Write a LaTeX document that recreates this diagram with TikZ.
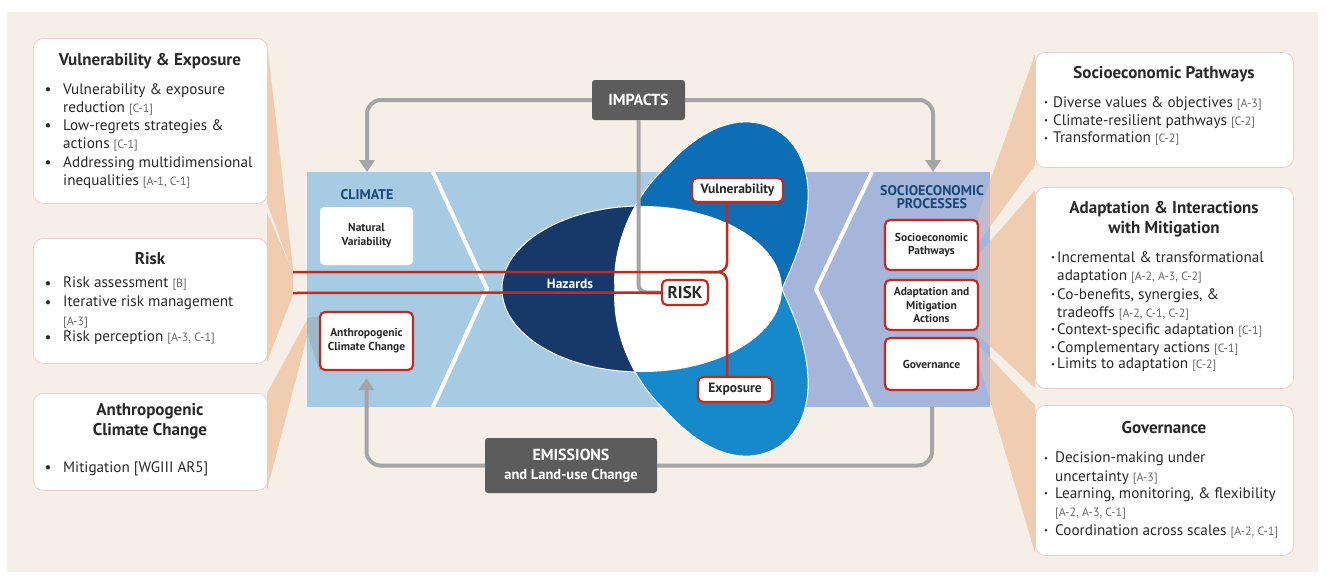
\documentclass[tikz,border=0pt]{standalone}
\usepackage{fontspec}
\setmainfont{PT Sans}
\usetikzlibrary{arrows.meta}
\definecolor{cream}{RGB}{246,239,231}
\definecolor{peach}{RGB}{240,205,177}
\definecolor{climblue}{RGB}{168,203,228}
\definecolor{soclav}{RGB}{166,181,218}
\definecolor{hazblue}{RGB}{22,57,106}
\definecolor{vulblue}{RGB}{12,110,181}
\definecolor{expblue}{RGB}{22,137,203}
\definecolor{redln}{RGB}{196,42,28}
\definecolor{boxgray}{RGB}{92,92,92}
\definecolor{linegray}{RGB}{165,165,165}
\definecolor{titleblue}{RGB}{24,72,120}
\definecolor{txt}{RGB}{40,40,40}
\definecolor{reftxt}{RGB}{105,105,105}
\definecolor{pinkedge}{RGB}{236,206,206}
\newcommand{\rf}[1]{{\fontsize{12}{13}\selectfont\color{reftxt}#1}}
\def\vulpetalpath{(615,289) .. controls (612,250) and (630,200) .. (665,168) .. controls (690,140) and (720,120) .. (750,122) .. controls (790,125) and (810,160) .. (808,200) .. controls (806,240) and (790,270) .. (782,289) -- cycle}
\def\exppetalpath{(615,289) .. controls (612,328) and (630,378) .. (665,410) .. controls (690,438) and (720,458) .. (750,456) .. controls (790,453) and (810,418) .. (808,378) .. controls (806,338) and (790,308) .. (782,289) -- cycle}
\begin{document}
\begin{tikzpicture}[x=1pt,y=-1pt,
  infobox/.style={draw=pinkedge, line width=0.8pt, fill=white, rounded corners=10pt, anchor=north west, inner sep=0pt},
  ttl/.style={font=\bfseries\fontsize{17}{20.5}\selectfont, text=txt, align=center, inner sep=0pt},
  itm/.style={font=\fontsize{15.2}{18.5}\selectfont, text=txt, align=left, anchor=north west, inner sep=0pt},
  dotb/.style={font=\fontsize{15.2}{18.5}\selectfont, text=txt, anchor=base, inner sep=0pt},
  dotc/.style={font=\bfseries\fontsize{15.2}{18.5}\selectfont, text=txt, anchor=base, inner sep=0pt},
  paneltitle/.style={font=\bfseries\fontsize{14}{13.5}\selectfont, text=titleblue, align=center, inner sep=0pt},
  nbox/.style={fill=white, rounded corners=4pt, inner sep=0pt, font=\bfseries\fontsize{11.5}{13.8}\selectfont, text=txt, align=center},
  rbox/.style={fill=white, draw=redln, line width=2.2pt, rounded corners=5pt, inner sep=0pt, font=\bfseries\fontsize{11.5}{13.8}\selectfont, text=txt, align=center},
  gbox/.style={fill=boxgray, rounded corners=3pt, inner sep=0pt, text=white, align=center},
  garrow/.style={draw=linegray, line width=4pt, rounded corners=14pt, -{Triangle[width=15pt,length=12pt]}},
  gline/.style={draw=linegray, line width=4pt, rounded corners=14pt},
  redline/.style={draw=redln, line width=2.5pt, rounded corners=9pt},
  wedge/.style={fill=peach}
]
\useasboundingbox (0,0) rectangle (1327,581);
\fill[white] (0,0) rectangle (1327,581);
\fill[cream] (7,12) rectangle (1318,572);

% wedges (left)
\fill[wedge] (267,42) -- (293,269) -- (293,274) -- (267,203) -- cycle;
\fill[wedge] (267,212) -- (293,273) -- (293,295) -- (267,362) -- cycle;
\fill[wedge] (267,393) -- (308,318) -- (308,333) -- (267,490) -- cycle;
% wedges (right)
\fill[wedge] (978,215) -- (1035,54) -- (1035,165) -- (978,243) -- cycle;
\fill[wedge] (978,255) -- (1035,190) -- (1035,388) -- (978,335) -- cycle;
\fill[wedge] (978,345) -- (1035,405) -- (1035,553) -- (978,360) -- cycle;

% band
\fill[climblue] (307,172) rectangle (740,407);
\fill[soclav] (740,172) rectangle (990,407);
\begin{scope}
  \clip (978,172) rectangle (990,407);
  \fill[peach, opacity=0.35] (978,215) -- (1035,54) -- (1035,165) -- (978,243) -- cycle;
  \fill[peach, opacity=0.35] (978,255) -- (1035,190) -- (1035,388) -- (978,335) -- cycle;
  \fill[peach, opacity=0.35] (978,345) -- (1035,405) -- (1035,553) -- (978,360) -- cycle;
\end{scope}
\fill[gray, opacity=0.25] (307,318) -- (320,316) -- (320,372) -- (307,333) -- cycle;
\draw[white, line width=4pt] (433,172) -- (487,289) -- (433,407);
\draw[white, line width=4pt] (872,172) -- (816,289) -- (872,407);

% petals
\fill[hazblue, draw=white, line width=1pt] (642,289) ellipse [x radius=140pt, y radius=83pt];
\fill[vulblue, draw=white, line width=1pt] \vulpetalpath;
\fill[expblue, draw=white, line width=1pt] \exppetalpath;
\begin{scope}
  \clip (642,289) ellipse [x radius=140pt, y radius=83pt];
  \fill[white] \vulpetalpath;
  \fill[white] \exppetalpath;
\end{scope}

% left info boxes
\node[infobox, minimum width=234pt, minimum height=165pt] (bve) at (33,38) {};
\node[ttl, anchor=base] (tve) at (150,65) {Vulnerability \& Exposure};
\node[dotb] (dve1) at (48,94) {\textbullet};
\node[dotb] (dve2) at (48,130) {\textbullet};
\node[dotb] (dve3) at (48,167) {\textbullet};
\node[itm] (ive1) at (63,83) {Vulnerability \& exposure\\reduction \rf{[C-1]}};
\node[itm] (ive2) at (63,119) {Low-regrets strategies \&\\actions \rf{[C-1]}};
\node[itm] (ive3) at (63,156) {Addressing multidimensional\\inequalities \rf{[A-1, C-1]}};

\node[infobox, minimum width=234pt, minimum height=125pt] (brk) at (33,238) {};
\node[ttl, anchor=base] (trk) at (150,264) {Risk};
\node[dotb] (drk1) at (48,288) {\textbullet};
\node[dotb] (drk2) at (48,307) {\textbullet};
\node[dotb] (drk3) at (48,342) {\textbullet};
\node[itm] (irk1) at (63,277) {Risk assessment \rf{[B]}};
\node[itm] (irk2) at (63,296) {Iterative risk management\\\rf{[A-3]}};
\node[itm] (irk3) at (63,331) {Risk perception \rf{[A-3, C-1]}};

\node[infobox, minimum width=234pt, minimum height=97pt] (bac) at (33,393) {};
\node[ttl, anchor=north] (tac) at (150,403) {Anthropogenic\\Climate Change};
\node[dotb] (dac1) at (48,472) {\textbullet};
\node[itm] (iac1) at (63,461) {Mitigation [WGIII AR5]};

% right info boxes
\node[infobox, minimum width=258pt, minimum height=115pt] (bsp) at (1035,52) {};
\node[ttl, anchor=base] (tsp) at (1164,78) {Socioeconomic Pathways};
\node[dotc] (dsp1) at (1046,107) {·};
\node[dotc] (dsp2) at (1046,125) {·};
\node[dotc] (dsp3) at (1046,143) {·};
\node[itm] (isp1) at (1053,96) {Diverse values \& objectives \rf{[A-3]}};
\node[itm] (isp2) at (1053,114) {Climate-resilient pathways \rf{[C-2]}};
\node[itm] (isp3) at (1053,132) {Transformation \rf{[C-2]}};

\node[infobox, minimum width=258pt, minimum height=201pt] (bad) at (1035,187) {};
\node[ttl, anchor=north] (tad) at (1164,201) {Adaptation \& Interactions\\with Mitigation};
\node[dotc] (dad1) at (1053,262) {·};
\node[dotc] (dad2) at (1053,299) {·};
\node[dotc] (dad3) at (1053,334) {·};
\node[dotc] (dad4) at (1053,352) {·};
\node[dotc] (dad5) at (1053,369) {·};
\node[itm] (iad1) at (1057,251) {Incremental \& transformational\\adaptation \rf{[A-2, A-3, C-2]}};
\node[itm] (iad2) at (1057,288) {Co-benefits, synergies, \&\\tradeoffs \rf{[A-2, C-1, C-2]}};
\node[itm] (iad3) at (1057,323) {Context-specific adaptation \rf{[C-1]}};
\node[itm] (iad4) at (1057,341) {Complementary actions \rf{[C-1]}};
\node[itm] (iad5) at (1057,358) {Limits to adaptation \rf{[C-2]}};

\node[infobox, minimum width=258pt, minimum height=150pt] (bgo) at (1035,405) {};
\node[ttl, anchor=base] (tgo) at (1164,433) {Governance};
\node[dotc] (dgo1) at (1046,463) {·};
\node[dotc] (dgo2) at (1046,498) {·};
\node[dotc] (dgo3) at (1046,535) {·};
\node[itm] (igo1) at (1055,452) {Decision-making under\\uncertainty \rf{[A-3]}};
\node[itm] (igo2) at (1055,487) {Learning, monitoring, \& flexibility\\\rf{[A-2, A-3, C-1]}};
\node[itm] (igo3) at (1055,524) {Coordination across scales \rf{[A-2, C-1]}};

% central panel labels and boxes
\node[paneltitle, anchor=base] (clt) at (367,199) {CLIMATE};
\node[nbox, minimum width=93pt, minimum height=58pt] (nv) at (366.5,236) {Natural\\Variability};
\node[rbox, minimum width=93pt, minimum height=58pt] (acc) at (366.5,341) {Anthropogenic\\Climate Change};
\node[paneltitle, anchor=north] (spt) at (932,185) {SOCIOECONOMIC\\PROCESSES};
\node[rbox, minimum width=93pt, minimum height=50pt] (sp) at (931.5,245) {Socioeconomic\\Pathways};
\node[rbox, minimum width=93pt, minimum height=50pt] (am) at (931.5,305) {Adaptation and\\Mitigation\\Actions};
\node[rbox, minimum width=93pt, minimum height=52pt] (gov) at (931.5,364) {Governance};

\node[font=\bfseries\fontsize{13.5}{15}\selectfont, text=white, anchor=base] (haz) at (570,288) {Hazards};
\node[rbox, minimum width=91pt, minimum height=24pt, font=\bfseries\fontsize{13.5}{15}\selectfont] (vul) at (737.5,190) {Vulnerability};
\node[rbox, minimum width=74pt, minimum height=25pt, font=\bfseries\fontsize{13.5}{15}\selectfont] (exp) at (735,389.5) {Exposure};
\node[rbox, minimum width=46pt, minimum height=25pt, font=\bfseries\fontsize{17}{19}\selectfont] (risk) at (685,292.5) {RISK};

\node[gbox, minimum width=93pt, minimum height=40pt, font=\bfseries\fontsize{16}{19}\selectfont] (imp) at (638.5,100) {IMPACTS};
\node[gbox, minimum width=172pt, minimum height=55pt, font=\bfseries\fontsize{16}{19}\selectfont] (emi) at (571,465.5) {EMISSIONS\\{\fontsize{14.5}{19}\selectfont and Land-use Change}};

% coordinates
\coordinate (ctop) at (367,172);
\coordinate (stop) at (933,172);
\coordinate (sbot) at (932,407);
\coordinate (rl1) at (293,272);
\coordinate (rl2) at (293,293);
\coordinate (vx) at (727,272);
\coordinate (vxl) at (700,272);

% connectors
\draw[garrow] (imp.west) -| (ctop);
\draw[garrow] (imp.east) -| (stop);
\draw[gline, rounded corners=8pt] (imp.south) |- (risk.west);
\draw[garrow, shorten >=7pt] (emi.west) -| (acc.south);
\draw[gline] (emi.east) -| (sbot);
\draw[redline] (rl1) -- (vx) -- (vx |- vul.south);
\draw[redline] (vxl) -- (vx) -- (vx |- exp.north);
\draw[redline] (rl2) -- (risk.west);
\end{tikzpicture}
\end{document}
